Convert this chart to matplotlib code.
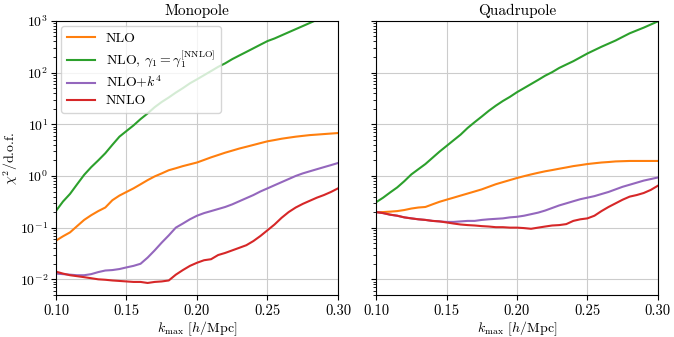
import numpy as np
import matplotlib
matplotlib.use("Agg")
import matplotlib.pyplot as plt

plt.rcParams['font.family'] = 'serif'
plt.rcParams['font.serif'] = ['cmr10']
plt.rcParams['mathtext.fontset'] = 'cm'
plt.rcParams['axes.formatter.use_mathtext'] = True
plt.rcParams['font.size'] = 10

# k_max grid
k = np.round(np.arange(0.100, 0.3001, 0.005), 3)

# Monopole chi^2 / d.o.f.
mono_nlo = [0.056, 0.068, 0.081, 0.107, 0.141, 0.174, 0.209, 0.245, 0.339, 0.417,
            0.49, 0.575, 0.69, 0.83, 0.98, 1.12, 1.29, 1.41, 1.55, 1.68,
            1.82, 2.04, 2.29, 2.54, 2.82, 3.09, 3.39, 3.67, 3.98, 4.32,
            4.68, 4.95, 5.25, 5.5, 5.75, 5.96, 6.17, 6.31, 6.46, 6.61, 6.76]
mono_nlo_g1 = [0.21, 0.32, 0.45, 0.69, 1.05, 1.48, 2.0, 2.75, 4.0, 5.75,
               7.4, 9.5, 12.6, 16.2, 21.4, 27, 33, 41, 50, 62,
               74, 89, 107, 129, 151, 182, 214, 251, 295, 347,
               407, 457, 525, 603, 692, 794, 912, 1047, 1202, 1380, 1585]
mono_k4 = [0.0129, 0.0126, 0.0123, 0.0120, 0.0120, 0.0126, 0.0138, 0.0148, 0.0151, 0.0158,
           0.0170, 0.0182, 0.0200, 0.0263, 0.0363, 0.0513, 0.0708, 0.100, 0.120, 0.145,
           0.170, 0.191, 0.209, 0.229, 0.251, 0.282, 0.324, 0.372, 0.427, 0.501,
           0.575, 0.661, 0.759, 0.871, 1.00, 1.12, 1.23, 1.35, 1.48, 1.62, 1.78]
mono_nnlo = [0.0141, 0.0129, 0.0120, 0.0115, 0.0110, 0.0105, 0.0100, 0.0098, 0.0095, 0.0093,
             0.0091, 0.0089, 0.0089, 0.0085, 0.0089, 0.0091, 0.0095, 0.0123, 0.0151, 0.0182,
             0.0209, 0.0234, 0.0245, 0.0295, 0.0324, 0.0363, 0.0407, 0.0457, 0.055, 0.069,
             0.089, 0.115, 0.155, 0.200, 0.245, 0.288, 0.331, 0.380, 0.427, 0.490, 0.575]

# Quadrupole chi^2 / d.o.f.
quad_nlo = [0.200, 0.200, 0.204, 0.209, 0.219, 0.234, 0.245, 0.251, 0.282, 0.316,
            0.347, 0.380, 0.417, 0.457, 0.501, 0.550, 0.617, 0.692, 0.759, 0.832,
            0.912, 0.99, 1.07, 1.15, 1.23, 1.30, 1.38, 1.46, 1.55, 1.62,
            1.70, 1.76, 1.82, 1.86, 1.91, 1.93, 1.95, 1.95, 1.95, 1.95, 1.95]
quad_nlo_g1 = [0.31, 0.38, 0.48, 0.60, 0.79, 1.07, 1.35, 1.70, 2.24, 2.95,
               3.8, 4.9, 6.3, 8.5, 11.0, 14.1, 18.2, 22.9, 28.2, 33.9,
               41.7, 50, 60, 72, 87, 102, 123, 143, 166, 197,
               234, 272, 316, 363, 417, 490, 575, 653, 741, 851, 977]
quad_k4 = [0.200, 0.191, 0.178, 0.170, 0.158, 0.151, 0.145, 0.141, 0.135, 0.132,
           0.129, 0.129, 0.132, 0.135, 0.135, 0.141, 0.145, 0.148, 0.151, 0.158,
           0.162, 0.170, 0.182, 0.195, 0.214, 0.240, 0.269, 0.295, 0.324, 0.355,
           0.380, 0.407, 0.447, 0.490, 0.550, 0.617, 0.676, 0.741, 0.813, 0.871, 0.933]
quad_nnlo = [0.200, 0.191, 0.178, 0.170, 0.158, 0.151, 0.145, 0.141, 0.135, 0.132,
             0.126, 0.120, 0.115, 0.112, 0.110, 0.107, 0.105, 0.102, 0.102, 0.100,
             0.100, 0.098, 0.095, 0.100, 0.105, 0.110, 0.112, 0.117, 0.135, 0.145,
             0.151, 0.170, 0.209, 0.251, 0.295, 0.347, 0.398, 0.427, 0.468, 0.537, 0.646]

labels = ['NLO', r'NLO, $\gamma_1 = \gamma_1^{[\mathrm{NNLO}]}$', r'NLO+$k^4$', 'NNLO']
colors = ['#ff7f0e', '#2ca02c', '#9467bd', '#d62728']

fig = plt.figure(figsize=(6.74, 3.37), dpi=100)
ax1 = fig.add_axes([0.083, 0.125, 0.4185, 0.813])
ax2 = fig.add_axes([0.558, 0.125, 0.418, 0.813], sharey=ax1)

panels = [(ax1, 'Monopole', [mono_nlo, mono_nlo_g1, mono_k4, mono_nnlo]),
          (ax2, 'Quadrupole', [quad_nlo, quad_nlo_g1, quad_k4, quad_nnlo])]

for ax, title, series in panels:
    for y, lab, c in zip(series, labels, colors):
        ax.plot(k, y, color=c, lw=1.5, label=lab)
    ax.set_yscale('log')
    ax.set_xlim(0.10, 0.30)
    ax.set_ylim(5e-3, 1e3)
    ax.set_xticks([0.10, 0.15, 0.20, 0.25, 0.30])
    ax.set_xticklabels(['0.10', '0.15', '0.20', '0.25', '0.30'])
    ax.grid(True, which='major', color='#cccccc', lw=0.8)
    ax.set_title(title, fontsize=11, pad=4)
    ax.set_xlabel(r'$k_{\rm max}$ [$h$/Mpc]', fontsize=10, labelpad=1)
    ax.tick_params(axis='x', labelsize=10.5, pad=3)
    ax.tick_params(axis='y', labelsize=10, pad=2)

ax1.set_ylabel(r'$\chi^2/$d.o.f.', fontsize=10)
ax1.yaxis.set_label_coords(-0.128, 0.5)
plt.setp(ax2.get_yticklabels(), visible=False)
ax1.legend(loc='upper left', fontsize=10, framealpha=0.8, labelspacing=0.3,
           borderaxespad=0.4, handlelength=2.0)

fig.savefig('out.png', dpi=100)
